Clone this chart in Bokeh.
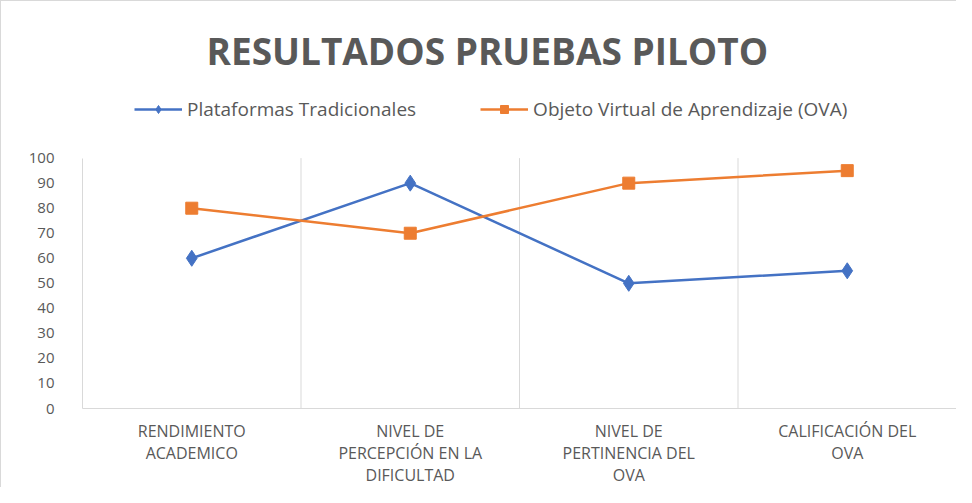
from bokeh.plotting import figure
from bokeh.models import (FixedTicker, Legend, LegendItem, ColumnDataSource, Label)
from bokeh.embed import file_html
from bokeh.resources import INLINE

title_text = "RESULTADOS PRUEBAS PILOTO"
categories = ["RENDIMIENTO\nACADEMICO",
              "NIVEL DE\nPERCEPCIÓN EN LA\nDIFICULTAD",
              "NIVEL DE\nPERTINENCIA DEL\nOVA",
              "CALIFICACIÓN DEL\nOVA"]
series_names = ["Plataformas Tradicionales", "Objeto Virtual de Aprendizaje (OVA)"]
plataformas = [60, 90, 50, 55]
ova = [80, 70, 90, 95]
y_ticks = list(range(0, 101, 10))
y_max = 100

xs = [i + 0.5 for i in range(len(categories))]
src = ColumnDataSource(dict(x=xs, plat=plataformas, ova=ova))
bounds = list(range(1, len(categories)))
grid_src = ColumnDataSource(dict(x=bounds, y0=[0] * len(bounds), y1=[y_max] * len(bounds)))

# frame spans the full height above the x axis; 100 sits 251px above 0
p = figure(width=956, height=487, x_range=(0, len(categories)),
           y_range=(0, y_max * 408 / 251),
           output_backend="svg", toolbar_location=None, title_location=None,
           min_border_left=81, min_border_right=1, min_border_top=0,
           min_border_bottom=79)
p.outline_line_color = None
p.background_fill_color = "white"
p.border_fill_color = "white"

GREY = "#595959"
LIGHT = "#d9d9d9"
FONT = "Open Sans"

# axes
p.xaxis.ticker = FixedTicker(ticks=xs)
p.xaxis.major_label_overrides = {x: c for x, c in zip(xs, categories)}
p.xaxis.major_label_text_font = FONT
p.xaxis.major_label_text_font_size = "16px"
p.xaxis.major_label_text_line_height = 1.0
p.xaxis.major_label_text_color = GREY
p.xaxis.major_tick_line_color = None
p.xaxis.minor_tick_line_color = None
p.xaxis.axis_line_color = LIGHT
p.xaxis.major_label_standoff = 5

p.yaxis.ticker = FixedTicker(ticks=y_ticks)
p.yaxis.bounds = (0, y_max)
p.yaxis.major_label_text_font = FONT
p.yaxis.major_label_text_font_size = "15px"
p.yaxis.major_label_text_color = GREY
p.yaxis.major_tick_line_color = None
p.yaxis.minor_tick_line_color = None
p.yaxis.axis_line_color = LIGHT
p.yaxis.major_label_standoff = 22

p.ygrid.grid_line_color = None
p.xgrid.grid_line_color = None
p.segment(x0="x", x1="x", y0="y0", y1="y1", source=grid_src,
          line_color=LIGHT, line_width=1)

BLUE = "#4472C4"
ORANGE = "#ED7D31"

l1 = p.line("x", "plat", source=src, line_color=BLUE, line_width=2.5)
m1 = p.scatter("x", "plat", source=src, marker="diamond", size=16,
               fill_color=BLUE, line_color=BLUE)
l2 = p.line("x", "ova", source=src, line_color=ORANGE, line_width=2.5)
m2 = p.scatter("x", "ova", source=src, marker="square", size=12,
               fill_color=ORANGE, line_color=ORANGE)

legend = Legend(items=[LegendItem(label=series_names[0], renderers=[l1, m1]),
                       LegendItem(label=series_names[1], renderers=[l2, m2])],
                orientation="horizontal", location=(52, 286),
                label_text_font=FONT, label_text_font_size="19px",
                label_text_color=GREY, glyph_width=48, glyph_height=20,
                spacing=64, padding=0, margin=0, border_line_color=None,
                background_fill_alpha=0, label_standoff=5)
p.add_layout(legend, "center")

title = Label(text=title_text, x=124, y=358, x_units="screen", y_units="screen",
              text_align="left", text_baseline="middle",
              text_font=FONT, text_font_size="37px", text_font_style="bold",
              text_color=GREY)
p.add_layout(title)

p.styles = {"border-top": "1px solid #d9d9d9", "border-left": "1px solid #d9d9d9"}

open("out.html", "w").write(file_html(p, INLINE))
